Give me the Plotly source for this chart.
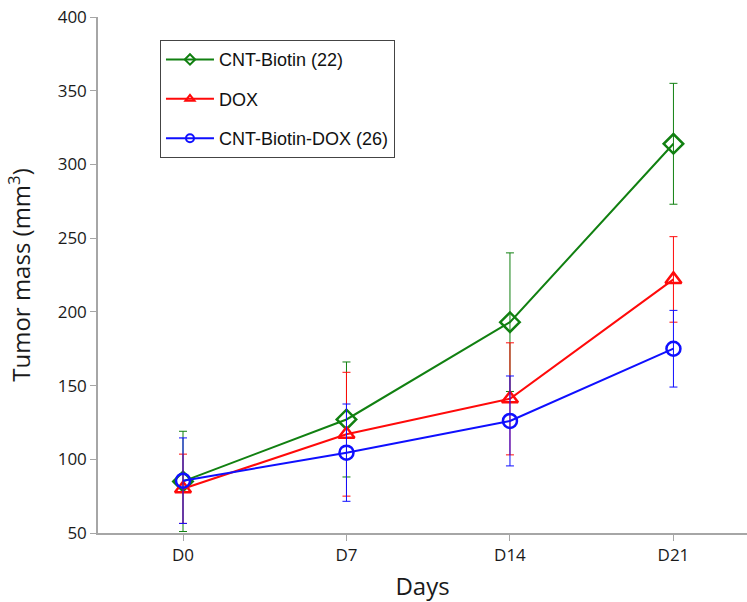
import plotly.graph_objects as go

days = ["D0", "D7", "D14", "D21"]

cnt_biotin = [85, 127, 193, 314]
cnt_biotin_err = [34, 39, 47, 41]

dox = [80, 117, 141, 222]
dox_err = [23.5, 42, 38, 29]

cnt_biotin_dox = [85.5, 104.5, 126, 175]
cnt_biotin_dox_err = [29, 33, 30.5, 26]

y_ticks = [50, 100, 150, 200, 250, 300, 350, 400]

series = [
    ("CNT-Biotin (22)", cnt_biotin, cnt_biotin_err, "#118011", "diamond-open", 15),
    ("DOX", dox, dox_err, "#ff0a0a", "triangle-up-open", 14),
    ("CNT-Biotin-DOX (26)", cnt_biotin_dox, cnt_biotin_dox_err, "#0f0fff", "circle-open", 14),
]

fig = go.Figure()
for i, (name, vals, errs, color, symbol, size) in enumerate(series):
    fig.add_trace(go.Scatter(
        x=days, y=vals, name=name, mode="lines+markers", showlegend=False,
        legendgroup=f"g{i}",
        line=dict(color=color, width=2),
        marker=dict(symbol=symbol, size=size, color=color,
                    line=dict(color=color, width=2.5)),
        error_y=dict(type="data", array=errs, visible=True,
                     color=color, thickness=1, width=4),
    ))
    # legend entry with a smaller marker
    fig.add_trace(go.Scatter(
        x=[None], y=[None], name=name, mode="lines+markers",
        legendgroup=f"g{i}",
        line=dict(color=color, width=2),
        marker=dict(symbol=symbol, size=8, color=color,
                    line=dict(color=color, width=2)),
    ))

axis_color = "#a6a6a6"
fig.update_layout(
    width=747, height=602,
    margin=dict(l=98, r=0, t=17, b=69),
    plot_bgcolor="white", paper_bgcolor="white",
    font=dict(family="Open Sans, Liberation Sans, sans-serif", color="#1a1a1a"),
    showlegend=True,
    legend=dict(
        x=0.0955, y=0.955, xanchor="left", yanchor="top",
        bgcolor="white", bordercolor="#444444", borderwidth=1,
        font=dict(family="Liberation Sans, Arial, sans-serif", size=18, color="#111111"),
        itemwidth=48, tracegroupgap=13, traceorder="grouped",
    ),
    xaxis=dict(
        type="category", range=[-0.52, 3.45],
        showline=True, linecolor=axis_color, linewidth=1.5,
        ticks="outside", ticklen=6, tickcolor=axis_color,
        showgrid=False, zeroline=False,
        tickfont=dict(size=17, color="#1a1a1a"),
        title=dict(text="Days", font=dict(size=24, color="#1a1a1a"), standoff=14),
    ),
    yaxis=dict(
        range=[50, 400], tickvals=y_ticks,
        showline=True, linecolor=axis_color, linewidth=1.5,
        ticks="outside", ticklen=6, tickcolor=axis_color,
        showgrid=False, zeroline=False,
        tickfont=dict(size=17, color="#1a1a1a"),
        title=dict(text="Tumor mass (mm<sup>3</sup>)", font=dict(size=24, color="#1a1a1a"), standoff=20),
    ),
)

fig.write_html("out.html")
